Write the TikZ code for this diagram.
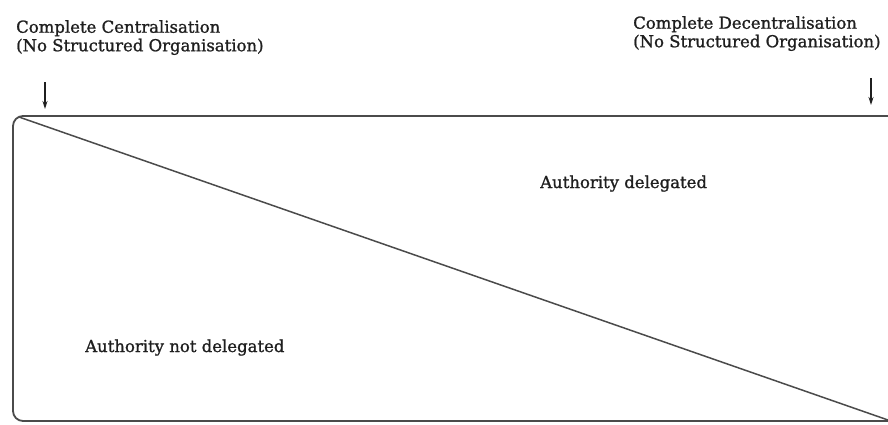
\documentclass[tikz,border=0pt]{standalone}
\usepackage{fontspec}
\setmainfont{DejaVu Serif}[FakeBold=1.2]
\usetikzlibrary{arrows.meta}
\usetikzlibrary{positioning}
\tikzset{lbl/.style = {align=left, inner sep=0, text=ink, font=\fontsize{16.5}{18.5}\selectfont}}
\tikzset{pointer/.style = {-{Stealth[length=8, width=5]}, line width=1.2, ink}}
\tikzset{edge/.style = {line width=1.8, ink!80}}
\definecolor{ink}{rgb}{0.12, 0.12, 0.12}

\begin{document}
\begin{tikzpicture}[x=1pt, y=-1pt]
    \useasboundingbox (0, 0) rectangle (888, 424);
    % labels over the two ends
    \node [lbl, anchor=north west] (cent) at (16, 20) {Complete Centralisation\\(No Structured Organisation)};
    \node [lbl, anchor=north west] (decent) at (633, 16) {Complete Decentralisation\\(No Structured Organisation)};
    \coordinate (ctail) at (45, 82);
    \coordinate (chead) at (45, 109);
    \coordinate (dtail) at (871, 78);
    \coordinate (dhead) at (871, 105);
    \draw [pointer] (ctail) -- (chead);
    \draw [pointer] (dtail) -- (dhead);
    % frame and split
    \draw [edge, rounded corners=10] (888, 116) -- (13, 116) -- (13, 421) -- (888, 421);
    \coordinate (apex) at (19, 117);
    \coordinate (foot) at (888, 420);
    \draw [edge, line width=1.5] (apex) -- (foot);
    \node [lbl, anchor=base west] (deleg) at (540, 188) {Authority delegated};
    \node [lbl, anchor=base west] (notdeleg) at (85, 352) {Authority not delegated};
\end{tikzpicture}
\end{document}
